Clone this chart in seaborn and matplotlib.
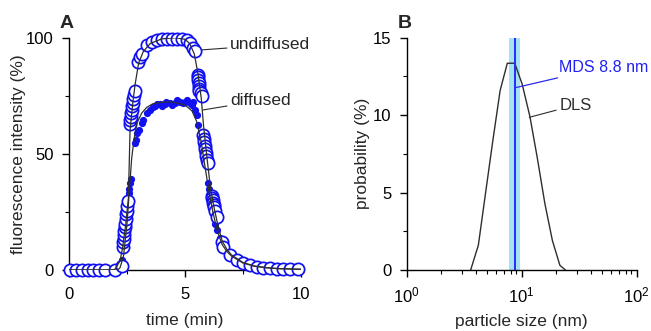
import matplotlib
matplotlib.use("Agg")
import matplotlib.pyplot as plt
import seaborn as sns
import pandas as pd
from matplotlib.ticker import MultipleLocator, LogLocator

# panel A: undiffused (open circles)
undiff_t = [0.05, 0.3, 0.55, 0.8, 1.05, 1.3, 1.55, 1.98, 2.27,
            2.31, 2.33, 2.35, 2.37, 2.39, 2.41, 2.43, 2.45, 2.47, 2.49, 2.52, 2.55,
            2.63, 2.65, 2.67, 2.69, 2.71, 2.73, 2.75, 2.77, 2.80, 2.83,
            2.99, 3.06, 3.13, 3.35, 3.56, 3.78, 4.0, 4.21, 4.43, 4.64, 4.86, 5.07, 5.22, 5.36, 5.43,
            5.56, 5.57, 5.58, 5.59, 5.60, 5.61, 5.62, 5.68, 5.72,
            5.79, 5.81, 5.83, 5.85, 5.87, 5.89, 5.91, 5.94, 6.0,
            6.15, 6.17, 6.19, 6.21, 6.23, 6.25, 6.28, 6.36,
            6.58, 6.65, 6.94, 7.23, 7.51, 7.8, 8.09, 8.38, 8.66, 8.95, 9.24, 9.53, 9.88]
undiff_v = [0, 0, 0, 0, 0, 0, 0, 0, 1.8,
            10, 12, 13.5, 15, 17, 18.5, 20, 22, 24, 25.5, 27.5, 29.5,
            63, 64.5, 66, 67.5, 69, 70.5, 72, 73.5, 75.5, 77,
            89.7, 91.8, 92.8, 96.9, 98.3, 99, 99.4, 99.4, 99.4, 99.4, 99.4, 99, 97.6, 95.4, 94.3,
            84, 83, 82, 80.5, 79, 78, 77, 76, 75,
            58, 56.5, 55, 53.5, 52, 50.5, 49, 47.5, 46,
            32, 31, 30, 29, 28, 27, 25.5, 23,
            12.2, 10, 6.5, 4.3, 2.9, 2.2, 1.4, 1.0, 0.8, 0.6, 0.4, 0.3, 0.3]

# panel A: diffused (filled dots)
diff_t = [0.0, 0.2, 0.4, 0.6, 0.8, 1.0, 1.2, 1.4, 1.6, 1.8, 1.9, 2.0, 2.1, 2.25, 2.3,
          2.52, 2.55, 2.58, 2.6, 2.63, 2.66, 2.84, 2.89, 2.95, 3.03, 3.13, 3.2, 3.35, 3.49,
          3.6, 3.71, 3.8, 3.92, 4.0, 4.14, 4.2, 4.35, 4.45, 4.57, 4.65, 4.78, 4.9, 5.0, 5.1,
          5.22, 5.3, 5.36, 5.43, 5.5, 5.57, 6.0, 6.04, 6.08, 6.15, 6.29, 6.37, 6.51, 6.58, 6.72,
          7.0, 7.3, 7.6, 7.9, 8.2, 8.5, 8.8, 9.1, 9.4, 9.7, 10.0]
diff_v = [0, 0, 0, 0, 0, 0, 0, 0, 0, 0, 0, 0, 0.5, 2, 4.5,
          29, 31, 33, 35, 37.5, 39, 54.5, 56, 58.8, 60.3, 63.1, 64.6, 67.5, 68.9,
          70, 70.6, 71.5, 71.5, 70.8, 71.5, 72.3, 71.8, 71.2, 72.1, 73, 72.5, 72, 72.5, 73.2,
          72.1, 71, 72.4, 68.9, 66.7, 62.4, 37.3, 35, 33, 30, 20, 17.2, 13.6, 11.5, 8.6,
          6, 4, 2.8, 2, 1.4, 1.0, 0.7, 0.5, 0.4, 0.3, 0.2]

# panel A: fitted curves
fit_u_t = [0, 1.9, 2.0, 2.2, 2.3, 2.45, 2.56, 2.63, 2.75, 2.85, 3.0, 3.2, 3.5, 4.0, 4.6,
           5.0, 5.2, 5.4, 5.55, 5.7, 5.8, 5.95, 6.1, 6.25, 6.4, 6.6, 6.8, 7.0, 7.5, 8.0,
           8.5, 9.0, 10.0]
fit_u_v = [0, 0, 0.5, 4, 9, 20, 31, 60, 72, 80, 89, 94, 97.5, 99.5, 100,
           99.3, 97.5, 93, 85, 74, 62, 48, 35, 27, 20, 12.5, 9, 6.5, 3.2, 1.7,
           1.0, 0.6, 0.3]
fit_d_t = [0, 2.1, 2.2, 2.35, 2.5, 2.6, 2.7, 2.8, 2.92, 3.13, 3.35, 3.6, 4.0, 4.5, 5.0,
           5.3, 5.5, 5.7, 5.9, 6.05, 6.2, 6.4, 6.6, 6.8, 7.0, 7.5, 8.0, 8.5, 9.0, 10.0]
fit_d_v = [0, 0, 1, 6, 20, 34, 48, 56, 63, 67.5, 70, 71.5, 72.3, 72.3, 71,
           68.5, 64, 55, 42, 33, 25, 16.5, 11, 8, 6, 3, 1.6, 1.0, 0.6, 0.3]

# panel B: DLS size distribution and MDS result
dls_size = [3.6, 4.2, 4.9, 5.6, 6.5, 7.5, 8.7, 10.1, 11.8, 13.7, 15.9, 18.5, 21.5, 24.0]
dls_prob = [0, 1.6, 5.2, 8.3, 11.6, 13.35, 13.35, 12.0, 9.9, 7.2, 4.3, 1.9, 0.3, 0]
mds_size = 8.8
mds_low, mds_high = 7.74, 9.66

sns.set_style("ticks")
plt.rcParams["font.family"] = ["Liberation Sans", "DejaVu Sans"]
plt.rcParams["mathtext.default"] = "regular"
plt.rcParams.update({
    "font.size": 12,
    "axes.linewidth": 1.0,
    "axes.edgecolor": "black",
    "xtick.major.size": 5, "ytick.major.size": 5,
    "xtick.minor.size": 3, "ytick.minor.size": 3,
    "xtick.major.width": 1.0, "ytick.major.width": 1.0,
    "xtick.minor.width": 0.8, "ytick.minor.width": 0.8,
    "xtick.direction": "out", "ytick.direction": "out",
    "xtick.color": "black", "ytick.color": "black",
})

blue = "#1010f0"
grey = "#2e2e2e"

fig = plt.figure(figsize=(6.51, 3.31), dpi=100)
ax1 = fig.add_axes([0.106, 0.1843, 0.3564, 0.7018])
ax2 = fig.add_axes([0.6247, 0.1843, 0.3533, 0.7018])

# --- panel A
und = pd.DataFrame({"t": undiff_t, "v": undiff_v})
dif = pd.DataFrame({"t": diff_t, "v": diff_v})
sns.scatterplot(data=dif, x="t", y="v", ax=ax1, color=blue, s=27, linewidth=0,
                zorder=3, clip_on=False)
sns.scatterplot(data=und, x="t", y="v", ax=ax1, facecolor="white", edgecolor=blue,
                s=78, linewidth=1.25, zorder=4, clip_on=False)
sns.lineplot(x=fit_u_t, y=fit_u_v, ax=ax1, color=grey, lw=0.9, sort=False, zorder=5)
sns.lineplot(x=fit_d_t, y=fit_d_v, ax=ax1, color=grey, lw=0.9, sort=False, zorder=5)

ax1.set_xlim(0, 10)
ax1.set_ylim(0, 100)
ax1.xaxis.set_major_locator(MultipleLocator(5))
ax1.xaxis.set_minor_locator(MultipleLocator(2.5))
ax1.yaxis.set_major_locator(MultipleLocator(50))
ax1.yaxis.set_minor_locator(MultipleLocator(25))
ax1.set_xlabel("time (min)", fontsize=12.5, labelpad=8)
ax1.set_ylabel("fluorescence intensity (%)", fontsize=12.5, labelpad=0)
ax1.tick_params(labelsize=12, pad=6)
ax1.tick_params(axis="x", pad=7.5)

ax1.annotate("undiffused", xy=(5.65, 94.7), xytext=(6.95, 96.9), fontsize=12.5,
             va="center", ha="left", annotation_clip=False,
             arrowprops=dict(arrowstyle="-", color=grey, lw=0.8, shrinkA=0, shrinkB=0))
ax1.annotate("diffused", xy=(5.78, 68.9), xytext=(6.95, 73.0), fontsize=12.5,
             va="center", ha="left", annotation_clip=False,
             arrowprops=dict(arrowstyle="-", color=grey, lw=0.8, shrinkA=0, shrinkB=0))
fig.text(0.092, 0.93, "A", fontsize=14, fontweight="bold", ha="left", va="center")

# --- panel B
ax2.set_xscale("log")
ax2.axvspan(mds_low, mds_high, color="#a4e2f8", lw=0, zorder=1)
ax2.axvline(mds_size, color="#2b2bf5", lw=1.4, zorder=3)
sns.lineplot(x=dls_size, y=dls_prob, ax=ax2, color=grey, lw=1.0, sort=False, zorder=2)

ax2.set_xlim(1, 100)
ax2.set_ylim(0, 15)
ax2.xaxis.set_major_locator(LogLocator(base=10, numticks=5))
ax2.xaxis.set_minor_locator(LogLocator(base=10, subs=range(2, 10), numticks=20))
ax2.yaxis.set_major_locator(MultipleLocator(5))
ax2.yaxis.set_minor_locator(MultipleLocator(2.5))
ax2.set_xlabel("particle size (nm)", fontsize=12.5, labelpad=6)
ax2.set_ylabel("probability (%)", fontsize=12.5, labelpad=2)
ax2.tick_params(labelsize=12, pad=6)
ax2.tick_params(axis="x", pad=6.5)

ax2.annotate("MDS 8.8 nm", xy=(mds_size, 11.77), xytext=(21.3, 13.1), fontsize=11.5,
             color="#2020f0", va="center", ha="left", annotation_clip=False,
             arrowprops=dict(arrowstyle="-", color="#2b2bf5", lw=0.9, shrinkA=0, shrinkB=0))
ax2.annotate("DLS", xy=(11.65, 9.86), xytext=(21.3, 10.65), fontsize=12,
             color=grey, va="center", ha="left", annotation_clip=False,
             arrowprops=dict(arrowstyle="-", color=grey, lw=0.8, shrinkA=0, shrinkB=0))
fig.text(0.611, 0.93, "B", fontsize=14, fontweight="bold", ha="left", va="center")

for ax in (ax1, ax2):
    sns.despine(ax=ax)

fig.savefig("out.png", dpi=100)
